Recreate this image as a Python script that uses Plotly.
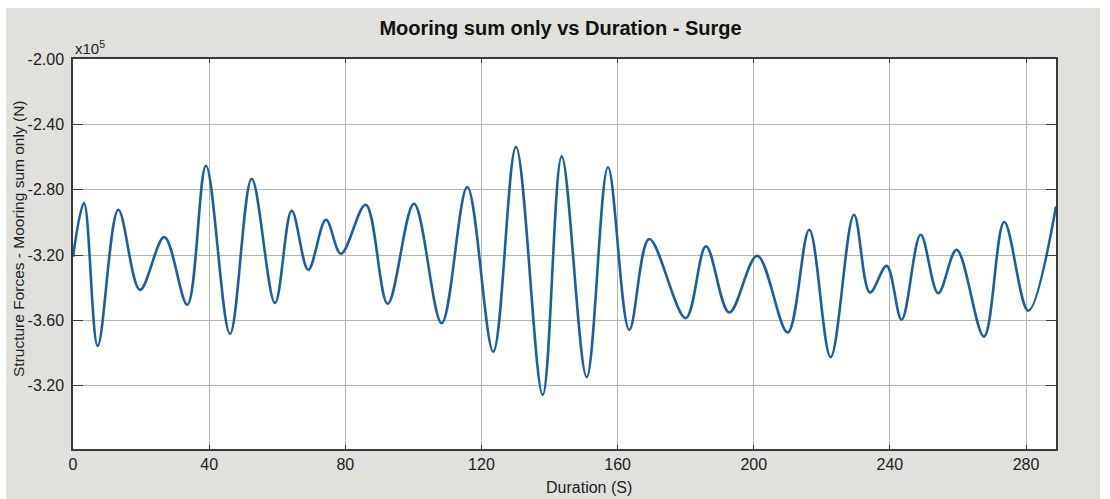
import plotly.graph_objects as go

duration = [0.0, 3.23, 7.26, 13.31, 19.68, 26.82, 33.58, 39.07, 46.12, 52.50,
            59.34, 64.25, 69.12, 74.32, 78.73, 85.99, 92.45, 100.18, 108.31, 115.83,
            123.47, 130.14, 137.98, 143.57, 150.91, 157.17, 163.43, 169.30, 180.00, 185.96,
            192.80, 201.03, 209.96, 216.30, 222.59, 229.44, 234.14, 239.04, 243.45, 249.03,
            254.20, 259.61, 267.63, 273.59, 280.64, 288.8]
force = [-3.21, -2.881, -3.756, -2.923, -3.413, -3.090, -3.504, -2.653, -3.682, -2.734,
         -3.494, -2.929, -3.290, -2.984, -3.192, -2.892, -3.498, -2.886, -3.617, -2.783,
         -3.791, -2.538, -4.056, -2.596, -3.947, -2.663, -3.658, -3.102, -3.586, -3.147,
         -3.552, -3.204, -3.674, -3.045, -3.825, -2.953, -3.429, -3.266, -3.596, -3.076,
         -3.433, -3.168, -3.699, -2.998, -3.541, -2.902]

x_ticks = [0, 40, 80, 120, 160, 200, 240, 280]
y_tickvals = [-2.0, -2.4, -2.8, -3.2, -3.6, -4.0]
y_ticktext = ["-2.00", "-2.40", "-2.80", "-3.20", "-3.60", "-3.20"]

FONT = "Liberation Sans, Arial, sans-serif"
GRAY = "#e0e0dc"
AX = "#3a3a3a"

fig = go.Figure()
fig.add_trace(go.Scatter(
    x=duration, y=force, mode="lines",
    line=dict(color="#1d5f9e", width=2.6, shape="spline", smoothing=1.0),
    showlegend=False, hoverinfo="skip"))

fig.update_layout(
    width=1110, height=499,
    margin=dict(l=73, r=54, t=59, b=50, pad=0),
    paper_bgcolor=GRAY, plot_bgcolor="white",
    font=dict(family=FONT, size=16, color="#222222"),
    title=dict(text="<b>Mooring sum only vs Duration - Surge</b>",
               x=0.505, xref="container", xanchor="center",
               y=1 - 28 / 499, yref="container", yanchor="middle",
               font=dict(family=FONT, size=20, color="#111111")),
    xaxis=dict(range=[0, 288.8], tickvals=x_ticks, ticktext=[str(v) for v in x_ticks],
               showgrid=True, gridcolor="#b4b4b4", gridwidth=1, zeroline=False,
               showline=True, linecolor=AX, linewidth=1.5, mirror="ticks",
               ticks="inside", ticklen=4, tickcolor=AX, tickwidth=1,
               tickfont=dict(family=FONT, size=16, color="#222222")),
    yaxis=dict(range=[-4.387, -2.0], tickvals=y_tickvals, ticktext=y_ticktext,
               showgrid=True, gridcolor="#b4b4b4", gridwidth=1, zeroline=False,
               showline=True, linecolor=AX, linewidth=1.5, mirror="ticks",
               ticks="inside", ticklen=10, tickcolor=AX, tickwidth=1,
               ticklabelstandoff=4,
               tickfont=dict(family=FONT, size=16, color="#222222")),
    annotations=[
        dict(text="x10<sup>5</sup>", xref="paper", yref="paper", x=0.0, y=1.0,
             xanchor="left", yanchor="bottom", showarrow=False,
             font=dict(family=FONT, size=15, color="#222222")),
        dict(text="Structure Forces - Mooring sum only (N)", xref="paper", yref="paper",
             x=(18 - 73) / 983, y=(449 - 239) / 390, textangle=-90,
             xanchor="center", yanchor="middle",
             showarrow=False, font=dict(family=FONT, size=15.5, color="#222222")),
        dict(text="Duration (S)", xref="paper", yref="paper",
             x=(589 - 73) / 983, y=(449 - 487) / 390, xanchor="center", yanchor="middle",
             showarrow=False, font=dict(family=FONT, size=16, color="#222222")),
    ],
    shapes=[
        dict(type="rect", xref="paper", yref="paper", x0=-0.2, x1=1.2,
             y0=(449 - 8) / 390, y1=1.3, fillcolor="white", line_width=0, layer="above"),
        dict(type="rect", xref="paper", yref="paper", x0=-0.2, x1=(6 - 73) / 983,
             y0=-0.3, y1=1.3, fillcolor="white", line_width=0, layer="above"),
        dict(type="rect", xref="paper", yref="paper", x0=(1100 - 73) / 983, x1=1.2,
             y0=-0.3, y1=1.3, fillcolor="white", line_width=0, layer="above"),
    ],
)

fig.write_html("out.html")
